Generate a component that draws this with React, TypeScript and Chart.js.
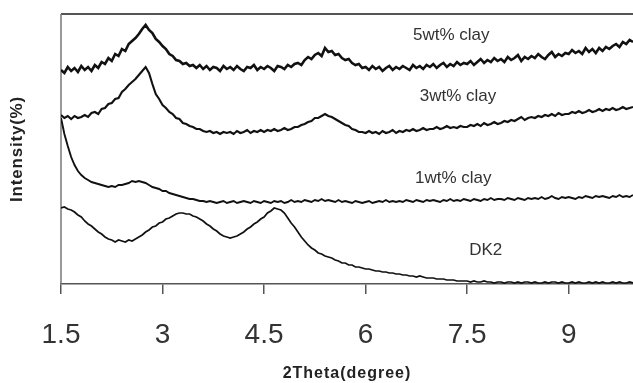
import React, { useEffect, useRef } from 'react';
import { Chart, registerables } from 'chart.js';

Chart.register(...registerables);

// 2Theta sampling grid (degrees)
const THETA_START = 1.5;
const THETA_STEP = 0.05;
const X_MIN = 1.5;
const X_MAX = 9.95;
const X_TICKS = [1.5, 3, 4.5, 6, 7.5, 9];

const SERIES_NAMES = ['5wt% clay', '3wt% clay', '1wt% clay', 'DK2'];

// offset intensities (arbitrary units), one value per 0.05 degree from 1.5 to 10.0
const CLAY5 = [
  214, 211, 217, 213, 216, 212, 218, 214, 217, 213,
  219, 216, 222, 220, 226, 223, 230, 228, 235, 233,
  240, 243, 246, 250, 255, 259, 254, 251, 245, 242,
  238, 235, 230, 228, 224, 223, 220, 221, 218, 219,
  216, 219, 215, 218, 214, 217, 216, 213, 218, 215,
  217, 214, 218, 215, 213, 217, 216, 219, 214, 217,
  215, 218, 216, 213, 218, 217, 215, 219, 217, 220,
  221, 219, 224, 227, 225, 229, 231, 228, 236, 232,
  233, 229, 230, 226, 224, 225, 221, 219, 220, 216,
  217, 214, 218, 215, 217, 213, 216, 218, 214, 217,
  215, 218, 216, 214, 219, 216, 218, 215, 219, 217,
  220, 216, 219, 221, 217, 220, 218, 222, 219, 221,
  220, 223, 219, 222, 225, 221, 224, 222, 226, 223,
  225, 222, 227, 224, 226, 229, 223, 227, 225, 228,
  226, 230, 227, 225, 229, 232, 227, 230, 228, 231,
  230, 234, 231, 233, 230, 236, 232, 235, 231, 236,
  233, 237, 235, 238, 240, 237, 242, 240, 244, 242,
  245,
];

const CLAY3 = [
  169, 166, 168, 165, 168, 166, 167, 169, 167, 171,
  172, 170, 175, 176, 180, 181, 185, 186, 192, 195,
  199, 202, 205, 209, 213, 217, 211, 200, 190, 185,
  179, 176, 172, 170, 166, 165, 161, 160, 158, 157,
  155, 155, 153, 152, 153, 151, 152, 150, 152, 151,
  152, 150, 153, 151, 152, 154, 151, 153, 152, 154,
  152, 154, 153, 155, 153, 154, 156, 154, 155, 157,
  157, 159, 160, 162, 163, 166, 166, 168, 170, 168,
  167, 165, 163, 161, 159, 158, 155, 154, 152, 152,
  151, 153, 151, 152, 150, 153, 151, 152, 154, 151,
  153, 152, 154, 153, 155, 153, 154, 156, 154, 155,
  155, 157, 155, 156, 158, 156, 157, 156, 158, 157,
  157, 159, 158, 160, 158, 161, 159, 160, 162, 160,
  161, 163, 162, 164, 163, 165, 167, 164, 166, 167,
  166, 168, 167, 169, 168, 170, 168, 171, 169, 170,
  170, 172, 171, 173, 171, 172, 174, 172, 173, 175,
  173, 175, 174, 176, 174, 175, 177, 175, 176, 177,
  176,
];

const CLAY1 = [
  166, 150, 138, 127, 119, 113, 109, 106, 104, 102,
  101, 100, 99, 98, 97, 98, 97, 99, 99, 100,
  101, 103, 102, 103, 102, 101, 99, 97, 96, 95,
  93, 93, 91, 90, 89, 88, 87, 86, 85, 85,
  84, 83, 83, 82, 83, 82, 81, 82, 83, 81,
  82, 83, 81, 82, 83, 82, 81, 83, 82, 81,
  83, 82, 81, 83, 82, 83, 81, 82, 84, 82,
  83, 82, 84, 83, 82, 84, 83, 85, 83, 84,
  83, 82, 84, 82, 83, 82, 81, 83, 82, 81,
  82, 83, 81, 82, 83, 82, 84, 82, 83, 82,
  83, 82, 84, 83, 82, 84, 83, 82, 84, 83,
  84, 83, 82, 84, 83, 85, 83, 84, 83, 85,
  84, 83, 85, 84, 83, 85, 84, 86, 84, 85,
  85, 84, 86, 85, 84, 86, 85, 84, 86, 85,
  86, 85, 87, 85, 86, 88, 86, 85, 87, 86,
  87, 86, 85, 87, 86, 88, 87, 86, 88, 87,
  88, 87, 86, 88, 87, 89, 87, 88, 87, 89,
  88,
];

const DK2 = [
  76, 77, 75, 74, 72, 69, 67, 63, 60, 58,
  55, 52, 50, 47, 45, 44, 42, 44, 43, 42,
  44, 43, 45, 47, 49, 52, 54, 57, 58, 61,
  62, 65, 66, 68, 70, 71, 71, 70, 70, 68,
  67, 65, 63, 60, 58, 55, 53, 50, 48, 47,
  46, 47, 48, 50, 52, 55, 57, 60, 62, 65,
  67, 71, 73, 76, 75, 74, 71, 66, 61, 57,
  52, 47, 43, 39, 36, 34, 31, 30, 28, 27,
  26, 24, 23, 21, 21, 19, 19, 17, 17, 16,
  15, 15, 14, 13, 13, 12, 12, 11, 11, 10,
  10, 9, 9, 8, 8, 7, 8, 7, 6, 6,
  6, 5, 5, 5, 4, 4, 4, 3, 3, 3,
  3, 2, 3, 2, 2, 3, 2, 2, 1, 2,
  2, 1, 2, 2, 1, 2, 1, 2, 2, 1,
  2, 1, 1, 2, 1, 2, 2, 1, 2, 1,
  1, 2, 1, 2, 1, 1, 2, 1, 2, 1,
  2, 1, 1, 2, 1, 2, 1, 1, 2, 1,
  1,
];

const SERIES_VALUES = [CLAY5, CLAY3, CLAY1, DK2];
const SERIES_WIDTHS = [2.6, 2.1, 1.9, 1.7];

// label anchors in data units (2Theta, intensity)
const LABEL_X = [6.7, 6.8, 6.73, 7.53];
const LABEL_Y = [249, 188, 106, 34];

const X_TITLE = '2Theta(degree)';
const Y_TITLE = 'Intensity(%)';

const FONT = '"Liberation Sans", Arial, sans-serif';

const decorPlugin = {
  id: 'decor',
  beforeDatasetsDraw(chart: any) {
    const { ctx, chartArea: a } = chart;
    ctx.save();
    ctx.strokeStyle = '#555';
    ctx.lineWidth = 2;
    ctx.beginPath();
    ctx.moveTo(a.left, a.top);
    ctx.lineTo(a.right, a.top);
    ctx.stroke();
    ctx.strokeStyle = '#777';
    ctx.lineWidth = 1.5;
    ctx.beginPath();
    ctx.moveTo(a.left, a.top);
    ctx.lineTo(a.left, a.bottom);
    ctx.stroke();
    ctx.restore();
  },
  afterDraw(chart: any) {
    const { ctx, chartArea: a, scales } = chart;
    ctx.save();
    ctx.fillStyle = '#333';
    ctx.font = `17px ${FONT}`;
    ctx.textAlign = 'left';
    ctx.textBaseline = 'middle';
    SERIES_NAMES.forEach((name, i) => {
      ctx.fillText(name, scales.x.getPixelForValue(LABEL_X[i]), scales.y.getPixelForValue(LABEL_Y[i]));
    });
    ctx.fillStyle = '#222';
    ctx.font = `bold 16px ${FONT}`;
    (ctx as any).letterSpacing = '1px';
    ctx.textAlign = 'center';
    ctx.fillText(X_TITLE, (a.left + a.right) / 2, 374);
    ctx.translate(17, (a.top + a.bottom) / 2);
    ctx.rotate(-Math.PI / 2);
    ctx.font = `bold 17px ${FONT}`;
    (ctx as any).letterSpacing = '0.8px';
    ctx.fillText(Y_TITLE, 0, 0);
    ctx.restore();
  },
};

export default function App() {
  const ref = useRef<HTMLCanvasElement>(null);
  useEffect(() => {
    document.body.style.margin = '0';
    const canvas = ref.current!;
    const datasets = SERIES_VALUES.map((vals, i) => ({
      label: SERIES_NAMES[i],
      data: vals.map((v, k) => ({ x: THETA_START + k * THETA_STEP, y: v })),
      borderColor: '#111',
      backgroundColor: '#111',
      borderWidth: SERIES_WIDTHS[i],
      pointRadius: 0,
      tension: 0,
      fill: false,
    }));
    const chart = new Chart(canvas, {
      type: 'line',
      data: { datasets },
      plugins: [decorPlugin],
      options: {
        animation: false,
        responsive: false,
        devicePixelRatio: 1,
        layout: { padding: { left: 61, top: 14, right: 0, bottom: 0 } },
        plugins: { legend: { display: false }, tooltip: { enabled: false } },
        scales: {
          x: {
            type: 'linear',
            min: X_MIN,
            max: X_MAX,
            afterBuildTicks: (scale: any) => {
              scale.ticks = X_TICKS.map((v) => ({ value: v }));
            },
            afterFit: (scale: any) => {
              scale.height = 99;
            },
            ticks: {
              autoSkip: false,
              maxRotation: 0,
              padding: 24,
              color: '#333',
              font: { family: FONT, size: 28 },
              callback: (v: any) => String(v),
            },
            grid: {
              drawOnChartArea: false,
              drawTicks: true,
              tickLength: 10,
              color: '#555',
              lineWidth: 1.5,
            },
            border: { display: true, color: '#555', width: 1.5 },
          },
          y: {
            display: false,
            min: 0,
            max: 270,
          },
        },
      },
    });
    return () => chart.destroy();
  }, []);
  return <canvas ref={ref} width={633} height={383} style={{ display: 'block' }} />;
}
